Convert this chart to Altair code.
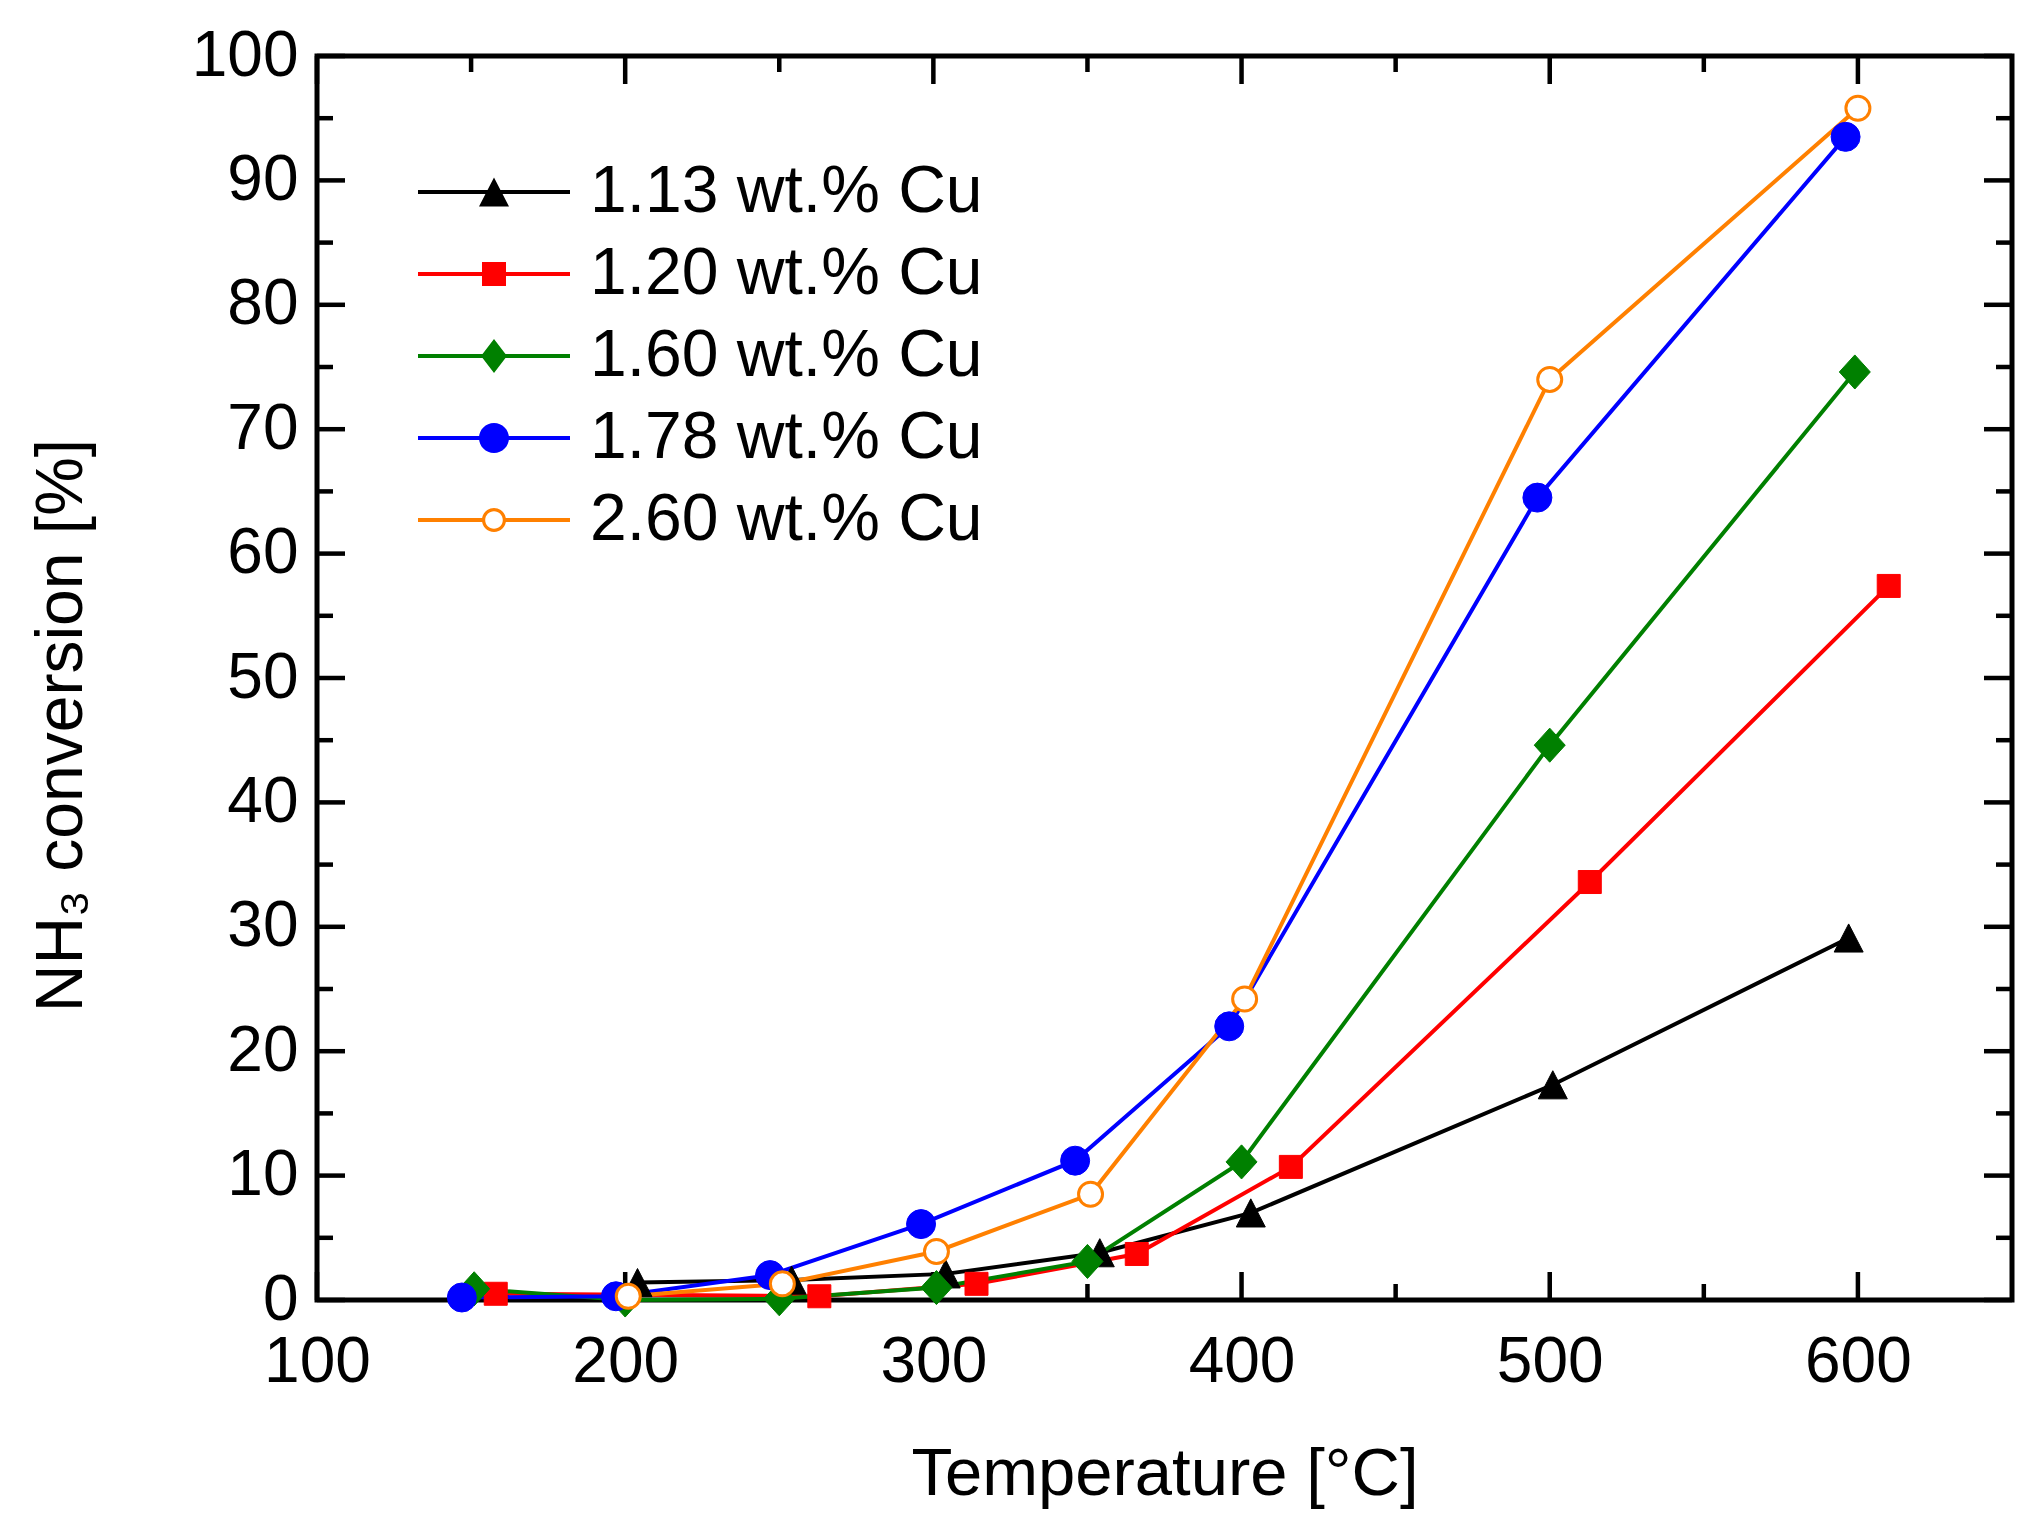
import altair as alt
import pandas as pd

FONT = "Liberation Sans, Arial, sans-serif"

series = ["1.13 wt.% Cu", "1.20 wt.% Cu", "1.60 wt.% Cu", "1.78 wt.% Cu", "2.60 wt.% Cu"]
colors = ["#000000", "#FF0000", "#008000", "#0000FF", "#FF8000"]

# temperature [°C] / NH3 conversion [%]
t_113 = [204, 254, 304, 354, 403, 501, 597]
v_113 = [1.4, 1.6, 2.1, 3.8, 7.0, 17.3, 29.1]

t_120 = [158, 263, 314, 366, 416, 513, 610]
v_120 = [0.5, 0.3, 1.3, 3.7, 10.7, 33.6, 57.4]

t_160 = [151, 200, 250, 301, 350, 400, 500, 599]
v_160 = [0.9, 0.0, 0.1, 1.0, 3.1, 11.1, 44.6, 74.6]

t_178 = [147, 197, 247, 296, 346, 396, 496, 596]
v_178 = [0.2, 0.3, 2.0, 6.1, 11.2, 22.0, 64.5, 93.5]

t_260 = [201, 251, 301, 351, 401, 500, 600]
v_260 = [0.3, 1.3, 3.9, 8.5, 24.2, 74.0, 95.8]

x_major = [100, 200, 300, 400, 500, 600]
x_minor = [150, 250, 350, 450, 550]
y_major = [0, 10, 20, 30, 40, 50, 60, 70, 80, 90, 100]
y_minor = [5, 15, 25, 35, 45, 55, 65, 75, 85, 95]

W, H = 1695, 1244
MAJOR, MINOR = 28, 16

rows = []
for name, ts, vs in zip(series,
                        [t_113, t_120, t_160, t_178, t_260],
                        [v_113, v_120, v_160, v_178, v_260]):
    for t, v in zip(ts, vs):
        rows.append({"series": name, "T": t, "conv": v})
df = pd.DataFrame(rows)

xs = alt.Scale(domain=[100, 650], nice=False, zero=False)
ys = alt.Scale(domain=[0, 100], nice=False)

triangle = "M0,-0.97L1,0.97L-1,0.97Z"
diamond = "M0,-1.1L1,0L0,1.1L-1,0Z"

# legend symbols: line segment + marker in one path
bar = "M-7.6,-0.2H7.6V0.2H-7.6Z"
leg_shapes = [
    bar + "M0,-1.45L1.5,1.45L-1.5,1.45Z",
    bar + "M-1.2,-1.2H1.2V1.2H-1.2Z",
    bar + "M0,-1.7L1.3,0L0,1.7L-1.3,0Z",
    bar + "M-1.5,0A1.5,1.5,0,1,1,1.5,0A1.5,1.5,0,1,1,-1.5,0Z",
    "M-7.6,-0.2H-1V0.2H-7.6Z" + "M1,-0.2H7.6V0.2H1Z"
    + "M-1.2,0A1.2,1.2,0,1,1,1.2,0A1.2,1.2,0,1,1,-1.2,0Z"
    + "M-0.88,0A0.88,0.88,0,1,0,0.88,0A0.88,0.88,0,1,0,-0.88,0Z",
]


def x_ticks(values, length):
    d = pd.DataFrame({"v": values})
    bottom = alt.Chart(d).mark_rule(color="black", strokeWidth=4.5).encode(
        x=alt.X("v:Q", scale=xs), y=alt.value(H), y2=alt.value(H - length))
    top = alt.Chart(d).mark_rule(color="black", strokeWidth=4.5).encode(
        x=alt.X("v:Q", scale=xs), y=alt.value(0), y2=alt.value(length))
    return [bottom, top]


def y_ticks(values, length):
    d = pd.DataFrame({"v": values})
    left = alt.Chart(d).mark_rule(color="black", strokeWidth=4.5).encode(
        y=alt.Y("v:Q", scale=ys), x=alt.value(0), x2=alt.value(length))
    right = alt.Chart(d).mark_rule(color="black", strokeWidth=4.5).encode(
        y=alt.Y("v:Q", scale=ys), x=alt.value(W), x2=alt.value(W - length))
    return [left, right]


base = alt.Chart(df)

lines = base.mark_line(strokeWidth=4).encode(
    x=alt.X("T:Q", scale=xs,
            axis=alt.Axis(values=x_major, format="d", title="Temperature [°C]",
                          domain=False, ticks=False, tickSize=0, grid=False,
                          labelFontSize=64, labelFont=FONT, labelColor="black",
                          labelPadding=30, labelOverlap=False, labelFlush=False,
                          titleFontSize=67, titleFont=FONT, titleFontWeight="normal",
                          titleColor="black", titleX=W / 2, titleY=194,
                          titleAlign="center", titleBaseline="alphabetic")),
    y=alt.Y("conv:Q", scale=ys,
            axis=alt.Axis(values=y_major, format="d", title="NH₃ conversion [%]",
                          domain=False, ticks=False, tickSize=0, grid=False,
                          labelFontSize=64, labelFont=FONT, labelColor="black",
                          labelPadding=19, labelOverlap=False, labelFlush=False,
                          titleFontSize=66, titleFont=FONT, titleFontWeight="normal",
                          titleColor="black", titleX=-236, titleY=669, titleAngle=270,
                          titleAlign="center", titleBaseline="alphabetic")),
    color=alt.Color("series:N", scale=alt.Scale(domain=series, range=colors), legend=None),
    order=alt.Order("T:Q"),
)

points = base.mark_point(filled=True, opacity=1).encode(
    x=alt.X("T:Q", scale=xs),
    y=alt.Y("conv:Q", scale=ys),
    shape=alt.Shape("series:N", scale=alt.Scale(
        domain=series, range=[triangle, "square", diamond, "circle", "circle"]), legend=None),
    fill=alt.Fill("series:N", scale=alt.Scale(
        domain=series, range=["#000000", "#FF0000", "#008000", "#0000FF", "#FFFFFF"]), legend=None),
    stroke=alt.Stroke("series:N", scale=alt.Scale(domain=series, range=colors), legend=None),
    size=alt.Size("series:N", scale=alt.Scale(type="ordinal", domain=series,
                                              range=[841, 529, 961, 841, 576]), legend=None),
    strokeWidth=alt.StrokeWidth("series:N", scale=alt.Scale(type="ordinal", domain=series,
                                                            range=[1, 1, 1, 1, 3]), legend=None),
)

leg = alt.Legend(title=None, orient="none", legendX=144, legendY=103, symbolSize=400,
                 symbolStrokeWidth=0, symbolOpacity=1, labelFontSize=66, labelFont=FONT,
                 labelColor="black", labelOffset=63, rowPadding=16, labelLimit=1000, padding=0)

legend_layer = base.mark_point(filled=True, opacity=0).encode(
    x=alt.X("T:Q", scale=xs),
    y=alt.Y("conv:Q", scale=ys),
    shape=alt.Shape("series:N", scale=alt.Scale(domain=series, range=leg_shapes), legend=leg),
    fill=alt.Fill("series:N", scale=alt.Scale(domain=series, range=colors), legend=leg),
)

layers = x_ticks(x_major, MAJOR) + x_ticks(x_minor, MINOR) + y_ticks(y_major, MAJOR) + y_ticks(y_minor, MINOR)

chart = alt.layer(lines, *layers, points, legend_layer).resolve_scale(
    shape="independent", fill="independent", size="independent", strokeWidth="independent"
).properties(
    width=W, height=H,
    autosize=alt.AutoSizeParams(type="none"),
    padding={"left": 309, "top": 48, "right": 20, "bottom": 220},
    background="white",
).configure_view(stroke="black", strokeWidth=5)

chart.save("out.html", embed_options={"renderer": "svg", "actions": False})
